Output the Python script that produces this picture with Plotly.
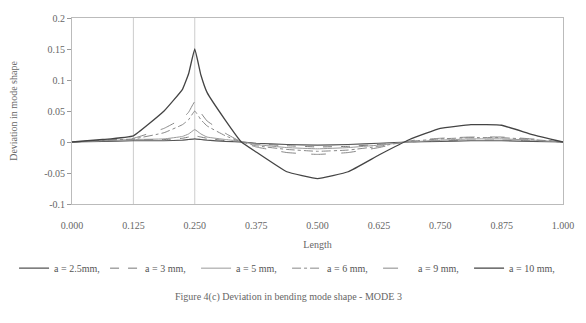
import plotly.graph_objects as go

x = [0.0, 0.0625, 0.125, 0.1875, 0.225, 0.2375, 0.25, 0.2625, 0.275, 0.3125, 0.345, 0.375,
     0.4375, 0.5, 0.5625, 0.625, 0.6875, 0.75, 0.8125, 0.875, 0.9375, 1.0]

a_2_5 = [0, 0.001, 0.002, 0.002, 0.003, 0.004, 0.005, 0.004, 0.003, 0.001, 0.0, -0.002,
         -0.004, -0.005, -0.004, -0.002, 0.0, 0.001, 0.002, 0.002, 0.001, 0]
a_3 = [0, 0.002, 0.004, 0.004, 0.006, 0.008, 0.01, 0.008, 0.006, 0.002, 0.0, -0.003,
       -0.006, -0.008, -0.007, -0.004, 0.0, 0.002, 0.003, 0.003, 0.002, 0]
a_5 = [0, 0.002, 0.004, 0.005, 0.009, 0.013, 0.02, 0.013, 0.008, 0.004, 0.001, -0.004,
       -0.009, -0.011, -0.009, -0.005, 0.0, 0.003, 0.005, 0.005, 0.003, 0]
a_6 = [0, 0.003, 0.005, 0.015, 0.028, 0.036, 0.05, 0.036, 0.026, 0.01, 0.0, -0.006,
       -0.012, -0.015, -0.013, -0.007, 0.001, 0.005, 0.007, 0.007, 0.004, 0]
a_9 = [0, 0.003, 0.006, 0.022, 0.038, 0.048, 0.065, 0.047, 0.034, 0.014, 0.0, -0.008,
       -0.017, -0.02, -0.017, -0.009, 0.002, 0.006, 0.008, 0.008, 0.005, 0]
a_10 = [0, 0.004, 0.01, 0.05, 0.085, 0.11, 0.15, 0.108, 0.08, 0.035, 0.0, -0.016,
        -0.048, -0.059, -0.048, -0.021, 0.004, 0.022, 0.028, 0.027, 0.012, 0]

names = ["a = 2.5mm,", "a = 3 mm,", "a = 5 mm,", "a = 6 mm,", "a = 9 mm,", "a = 10 mm,"]
series = [a_2_5, a_3, a_5, a_6, a_9, a_10]
dashes = ["solid", "dash", "solid", "dashdot", "longdash", "solid"]
colors = ["#555555", "#777777", "#999999", "#888888", "#888888", "#444444"]
widths = [1.2, 1, 1, 1, 1, 1.3]

x_ticks = [0.0, 0.125, 0.25, 0.375, 0.5, 0.625, 0.75, 0.875, 1.0]
x_tick_labels = ["0.000", "0.125", "0.250", "0.375", "0.500", "0.625", "0.750", "0.875", "1.000"]
y_ticks = [-0.1, -0.05, 0, 0.05, 0.1, 0.15, 0.2]
y_tick_labels = ["-0.1", "-0.05", "0", "0.05", "0.1", "0.15", "0.2"]
vlines = [0.125, 0.25]

FONT = "Liberation Serif"

fig = go.Figure()
for name, ys, d, c, w in zip(names, series, dashes, colors, widths):
    fig.add_trace(go.Scatter(x=x, y=ys, mode="lines", name=name,
                             line=dict(color=c, dash=d, width=w, shape="spline", smoothing=0.3)))

for v in vlines:
    fig.add_vline(x=v, line=dict(color="#cccccc", width=1), layer="below")

fig.update_layout(
    width=586, height=323,
    margin=dict(l=72, r=14, t=13, b=119),
    paper_bgcolor="white", plot_bgcolor="white",
    font=dict(family=FONT, size=10, color="#555555"),
    showlegend=True,
    legend=dict(orientation="h", x=-0.118, y=-0.345, xanchor="left", yanchor="middle",
                font=dict(family=FONT, size=10, color="#555555"),
                entrywidth=46, entrywidthmode="pixels", itemwidth=30,
                tracegroupgap=0),
    xaxis=dict(range=[0, 1], tickvals=x_ticks, ticktext=x_tick_labels,
               showgrid=False, zeroline=False, showline=True, linecolor="#bbbbbb",
               mirror=True, ticks="outside", ticklen=12, tickcolor="rgba(0,0,0,0)",
               tickfont=dict(size=10, color="#666666"),
               title=dict(text="Length", font=dict(size=10, color="#666666"), standoff=10)),
    yaxis=dict(range=[-0.1, 0.2], tickvals=y_ticks, ticktext=y_tick_labels,
               showgrid=False, zeroline=False, showline=True, linecolor="#bbbbbb",
               mirror=True, ticks="outside", ticklen=4, tickcolor="#999999",
               tickfont=dict(size=10, color="#666666"),
               title=dict(text="Deviation in mode shape", font=dict(size=10, color="#666666"), standoff=24)),
)

fig.add_annotation(text="Figure 4(c) Deviation in bending mode shape - MODE 3",
                   xref="paper", yref="paper", x=0.44, y=-0.5, yanchor="middle",
                   showarrow=False, font=dict(family=FONT, size=10, color="#666666"))

fig.write_html("out.html")
